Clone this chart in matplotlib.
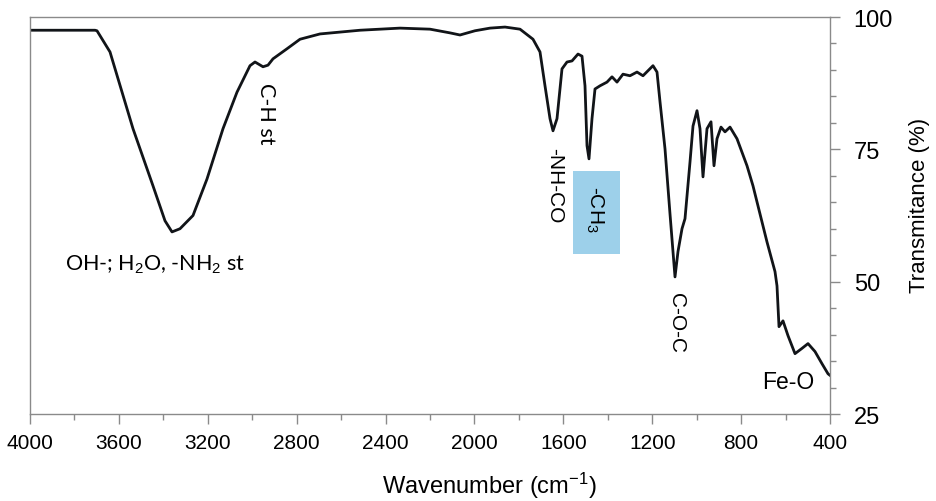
import matplotlib
matplotlib.use("Agg")
import matplotlib.pyplot as plt
from matplotlib.ticker import MultipleLocator
from matplotlib.patches import Rectangle

plt.rcParams["mathtext.fontset"] = "custom"
plt.rcParams["mathtext.rm"] = "Liberation Sans"
plt.rcParams["mathtext.it"] = "Liberation Sans:italic"
plt.rcParams["mathtext.bf"] = "Liberation Sans:bold"
plt.rcParams["axes.unicode_minus"] = False

wavenumber = [4000, 3865, 3707.5, 3698.5, 3640, 3536.5, 3446.5, 3392.5, 3361, 3325, 3266.5,
              3203.5, 3131.5, 3068.5, 3010, 2987.5, 2951.5, 2929, 2906.5, 2843.5, 2785, 2695,
              2515, 2335, 2200, 2110, 2065, 1997.5, 1930, 1862.5, 1795, 1736.5, 1705, 1682.5,
              1660, 1646.5, 1628.5, 1606, 1583.5, 1561, 1534, 1516, 1502.5, 1493.5, 1484.5,
              1471, 1457.5, 1435, 1403.5, 1381, 1358.5, 1331.5, 1300, 1268.5, 1241.5, 1196.5,
              1178.5, 1165, 1142.5, 1120, 1097.5, 1084, 1066, 1052.5, 1030, 1016.5, 998.5, 985,
              971.5, 953.5, 935.5, 922, 908.5, 890.5, 872.5, 850, 818.5, 773.5, 746.5, 683.5,
              647.5, 638.5, 629.5, 611.5, 589, 557.5, 526, 499, 467.5, 436, 409, 400]
transmittance = [97.5, 97.5, 97.5, 97.4, 93.4, 78.9, 68.1, 61.5, 59.4, 60.0, 62.5,
                 69.4, 78.9, 85.8, 90.8, 91.5, 90.6, 90.9, 92.1, 94.0, 95.8, 96.8,
                 97.5, 97.9, 97.7, 97.0, 96.6, 97.4, 97.9, 98.1, 97.7, 95.8, 93.4, 87.0,
                 80.8, 78.5, 80.8, 90.2, 91.5, 91.7, 93.0, 92.6, 87.0, 75.7, 73.2,
                 80.8, 86.4, 87.0, 87.7, 88.7, 87.7, 89.2, 88.9, 89.6, 88.9, 90.8,
                 89.6, 84.0, 75.1, 62.8, 50.9, 55.7, 60.0, 61.9, 72.6, 79.4, 82.3, 78.9,
                 69.8, 78.9, 80.2, 71.9, 77.0, 79.2, 78.3, 79.2, 77.0, 71.9, 68.1, 57.5,
                 51.9, 49.2, 41.5, 42.6, 39.8, 36.4, 37.4, 38.3, 36.8, 34.5, 32.6, 32.3]

x_ticks = [4000, 3600, 3200, 2800, 2400, 2000, 1600, 1200, 800, 400]
y_ticks = [25, 50, 75, 100]

fig = plt.figure(figsize=(9.36, 5.02), dpi=100)
ax = fig.add_axes([30/936, 1-415/502, 800/936, 397/502])

ax.plot(wavenumber, transmittance, color="#111418", lw=2.0, solid_joinstyle="round")
ax.set_xlim(4000, 400)
ax.set_ylim(25, 100)

spine_col = "#8a8a8a"
for s in ax.spines.values():
    s.set_color(spine_col)
    s.set_linewidth(1.0)

ax.yaxis.tick_right()
ax.set_xticks(x_ticks)
ax.set_yticks(y_ticks)
ax.xaxis.set_minor_locator(MultipleLocator(200))
ax.yaxis.set_minor_locator(MultipleLocator(5))
ax.tick_params(axis="both", which="major", direction="out", length=7, width=1, color=spine_col)
ax.tick_params(axis="both", which="minor", direction="out", length=4, width=1, color=spine_col)
ax.tick_params(axis="x", pad=7)
ax.tick_params(axis="y", pad=10)

arial = ["Liberation Sans", "DejaVu Sans"]
cal = ["Lato", "DejaVu Sans"]
for lab in ax.get_xticklabels():
    lab.set_fontfamily(arial)
    lab.set_fontsize(15)
for lab in ax.get_yticklabels():
    lab.set_fontfamily(arial)
    lab.set_fontsize(17)

def px(x, y):
    return (x/936, 1-y/502)

fig.text(*px(489, 486), "Wavenumber (cm$^{\\mathrm{-1}}$)", fontsize=17, family=arial,
         ha="center", va="center")
fig.text(*px(919, 205), "Transmitance (%)", fontsize=16, family=arial,
         ha="center", va="center", rotation=90)

fig.patches.append(Rectangle(px(573, 255), 47/936, 83/502, transform=fig.transFigure,
                             facecolor="#9dd0ea", edgecolor="none", zorder=0.5))

fig.text(*px(155, 265), "OH-; H$_2$O, -NH$_2$ st", fontsize=15.5, family=cal, ha="center", va="center")
fig.text(*px(266, 114), "C-H st", fontsize=15.5, family=cal, ha="center", va="center", rotation=-90)
fig.text(*px(555, 186), "-NH-CO", fontsize=15, family=arial, ha="center", va="center", rotation=-90)
fig.text(*px(595, 209), "-CH$_3$", fontsize=15, family=arial, ha="center", va="center", rotation=-90)
fig.text(*px(676, 323), "C-O-C", fontsize=15, family=arial, ha="center", va="center", rotation=-90)
fig.text(*px(788, 383), "Fe-O", fontsize=16.5, family=arial, ha="center", va="center")

fig.savefig("out.png", dpi=100)
